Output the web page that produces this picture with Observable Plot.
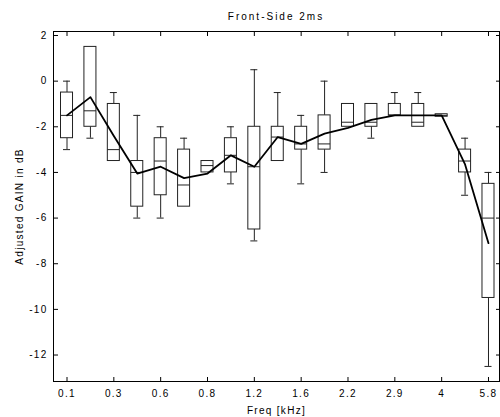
<!DOCTYPE html>
<html><head><meta charset="utf-8">
<script src="https://cdn.jsdelivr.net/npm/d3@7"></script>
<script src="https://cdn.jsdelivr.net/npm/@observablehq/plot@0.6"></script>
<style>
body{margin:0;background:#fff;font-family:"Liberation Sans",Arial,sans-serif;}
#title{height:25px;width:500px;position:relative;}
#title div{position:absolute;left:53px;width:446px;text-align:center;top:12px;font-size:10px;line-height:10px;color:#000;}
#title span{letter-spacing:2px;}
#chart svg text{letter-spacing:1.3px;}
</style></head><body>
<div id="title"><div><span>Front-Side 2ms</span></div></div>
<div id="chart"></div>
<script>
const categories = ["0.1","0.2","0.3","0.45","0.6","0.7","0.8","1","1.2","1.4","1.6","1.9","2.2","2.5","2.9","3.4","4","4.8","5.8"];
const tickLabels = ["0.1","0.3","0.6","0.8","1.2","1.6","2.2","2.9","4","5.8"];
const yTicks = [2,0,-2,-4,-6,-8,-10,-12];
const whiskerHigh = [0, 1.5, -0.5, -1.5, -2.0, -2.5, -3.5, -2.0, 0.5, -0.5, -1.5, 0, -1.0, -1.0, -0.5, -0.5, -1.45, -2.5, -4.0];
const q3 =          [-0.5, 1.5, -1.0, -3.5, -2.5, -3.0, -3.5, -2.5, -2.0, -2.0, -2.0, -1.5, -1.0, -1.0, -1.0, -1.0, -1.45, -3.0, -4.5];
const median =      [-1.5, -1.3, -3.0, -4.0, -3.5, -4.55, -3.7, -3.25, -3.75, -2.45, -2.75, -2.75, -1.8, -1.8, -1.5, -1.8, -1.5, -3.5, -6.0];
const q1 =          [-2.5, -2.0, -3.5, -5.5, -5.0, -5.5, -4.0, -4.0, -6.5, -3.5, -3.0, -3.0, -2.0, -2.0, -1.5, -2.0, -1.56, -4.0, -9.5];
const whiskerLow =  [-3.0, -2.5, -3.5, -6.0, -6.0, -5.5, -4.0, -4.5, -7.0, -3.5, -4.5, -4.0, -2.0, -2.5, -1.5, -2.0, -1.56, -5.0, -12.5];
const mean =        [-1.5, -0.7, -2.4, -4.05, -3.75, -4.25, -4.05, -3.25, -3.75, -2.45, -2.75, -2.3, -2.05, -1.7, -1.5, -1.5, -1.5, -3.65, -7.1];

const rows = categories.map((c, i) => ({cat: c, hi: whiskerHigh[i], q3: q3[i], med: median[i], q1: q1[i], lo: whiskerLow[i], mean: mean[i]}));
const fmt = d => d < 0 ? "-" + Math.abs(d) : String(d);

const plot = Plot.plot({
  width: 500, height: 392,
  marginLeft: 53, marginRight: 1, marginTop: 6, marginBottom: 36,
  style: {fontFamily: "'Liberation Sans', Arial, sans-serif", fontSize: "9px", color: "#000", background: "#fff"},
  x: {type: "band", domain: categories, range: [54.8, 499.7], padding: 0, round: false},
  y: {domain: [-13.16, 2.175]},
  marks: [
    Plot.ruleX(rows.filter(d => d.hi > d.q3), {x: "cat", y1: "q3", y2: "hi", stroke: "#222"}),
    Plot.ruleX(rows.filter(d => d.lo < d.q1), {x: "cat", y1: "q1", y2: "lo", stroke: "#222"}),
    Plot.tickY(rows.filter(d => d.hi > d.q3), {x: "cat", y: "hi", stroke: "#222", insetLeft: 8.2, insetRight: 8.2}),
    Plot.tickY(rows.filter(d => d.lo < d.q1), {x: "cat", y: "lo", stroke: "#222", insetLeft: 8.2, insetRight: 8.2}),
    Plot.barY(rows, {x: "cat", y1: "q1", y2: "q3", fill: "#fff", stroke: "#222", insetLeft: 5.7, insetRight: 5.7}),
    Plot.tickY(rows, {x: "cat", y: "med", stroke: "#222", insetLeft: 5.7, insetRight: 5.7}),
    Plot.line(rows, {x: "cat", y: "mean", stroke: "#000", strokeWidth: 1.8}),
    Plot.frame({stroke: "#000"}),
    Plot.axisY({anchor: "left", ticks: yTicks, tickSize: -5, tickPadding: 11, tickFormat: fmt,
      label: "Adjusted GAIN in dB", labelAnchor: "center", labelOffset: 38, labelArrow: false, fontSize: 10}),
    Plot.axisY({anchor: "right", ticks: yTicks, tickSize: -4, tickFormat: () => "", label: null}),
    Plot.axisX({anchor: "top", ticks: tickLabels, tickSize: -4, tickFormat: () => "", label: null}),
    Plot.axisX({anchor: "bottom", ticks: tickLabels, tickSize: -4, tickPadding: 12,
      label: "Freq [kHz]", labelAnchor: "center", labelOffset: 32, labelArrow: false, fontSize: 10})
  ]
});
document.getElementById("chart").appendChild(plot);
</script>
</body></html>
